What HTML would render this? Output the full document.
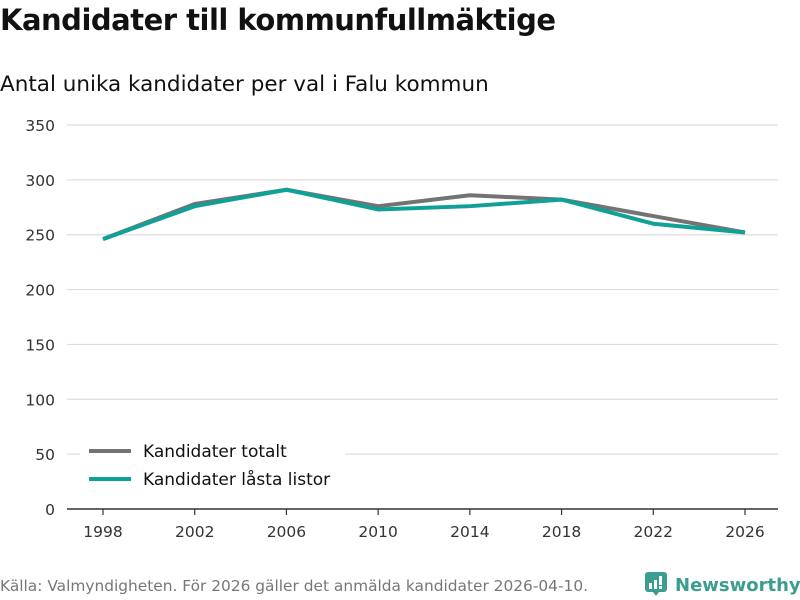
<!DOCTYPE html>
<html><head><meta charset="utf-8"><style>
body{margin:0;width:800px;height:600px;background:#fff;font-family:"DejaVu Sans","Liberation Sans",sans-serif;overflow:hidden;position:relative;color:#111}
#title{position:absolute;left:0;top:3px;font-size:29px;font-weight:bold;letter-spacing:-0.5px;white-space:nowrap}
#subtitle{position:absolute;left:0;top:72px;font-size:21.5px;white-space:nowrap}
#source{position:absolute;left:0;top:577px;font-size:15.4px;color:#777;white-space:nowrap}
#logo{position:absolute;left:645px;top:570px;font-size:18px;color:#3a9e8f;font-weight:bold;white-space:nowrap}
</style></head><body>
<div id="title">Kandidater till kommunfullmäktige</div>
<div id="subtitle">Antal unika kandidater per val i Falu kommun</div>
<svg id="chart" width="800" height="600" style="position:absolute;left:0;top:0"></svg>
<div id="source">Källa: Valmyndigheten. För 2026 gäller det anmälda kandidater 2026-04-10.</div>
<div id="logo"><svg width="24" height="26" style="vertical-align:-5px;margin-right:6px"><rect x="0" y="2" width="22" height="20" rx="3" fill="#3a9e8f"/><path d="M8 22 L11 26 L14 22Z" fill="#3a9e8f"/><rect x="4" y="13" width="3" height="6" fill="#fff"/><rect x="9" y="10" width="3" height="9" fill="#fff"/><rect x="14" y="6" width="3" height="9" fill="#fff"/><rect x="14" y="16" width="3" height="3" fill="#fff"/></svg>Newsworthy</div>
<script>
const years=[1998,2002,2006,2010,2014,2018,2022,2026];
const totalt=[246,278,291,276,286,282,267,252];
const lasta=[246,276,291,273,276,282,260,252];
const yTicks=[0,50,100,150,200,250,300,350];
const seriesNames=["Kandidater totalt","Kandidater låsta listor"];
const NS="http://www.w3.org/2000/svg";
const FF='DejaVu Sans, Liberation Sans, sans-serif';
const svg=document.getElementById('chart');
const x=v=>103+(v-1998)/28*642;
const y=v=>509-v/350*384;
function mk(t,a){const e=document.createElementNS(NS,t);for(const k in a)e.setAttribute(k,a[k]);svg.appendChild(e);return e;}
yTicks.forEach(t=>{
  const l=mk('line',{x1:67,x2:778,y1:y(t),y2:y(t),stroke:t===0?'#333':'#ddd','stroke-width':t===0?1.5:1.2});
  
  
  const tx=mk('text',{x:55,y:y(t)+6,'text-anchor':'end','font-size':15.5,fill:'#333','font-family':FF});
  tx.textContent=t;
  
  
});
years.forEach(yr=>{
  const l=mk('line',{x1:x(yr),x2:x(yr),y1:509,y2:515,stroke:'#333','stroke-width':1.2});
  
  
  const tx=mk('text',{x:x(yr),y:537,'text-anchor':'middle','font-size':15.5,fill:'#333','font-family':FF});
  tx.textContent=yr;
  
  
});
[[totalt,'#737373'],[lasta,'#0fa197']].forEach((s,i)=>{
  const p=mk('polyline',{points:years.map((yr,j)=>x(yr)+','+y(s[0][j])).join(' '),fill:'none',stroke:s[1],'stroke-width':4,'stroke-linejoin':'round'});
  
  
  const ly=451+i*28;
  const bg=mk('rect',{x:80,y:ly-13,width:265,height:26,fill:'#fff'});
  
  
  const ll=mk('line',{x1:89,x2:131,y1:ly,y2:ly,stroke:s[1],'stroke-width':4});
  
  
  const lt=mk('text',{x:143,y:ly+6,'font-size':17,fill:'#111','font-family':FF});
  lt.textContent=seriesNames[i];
  
  
});
</script>
</body></html>
